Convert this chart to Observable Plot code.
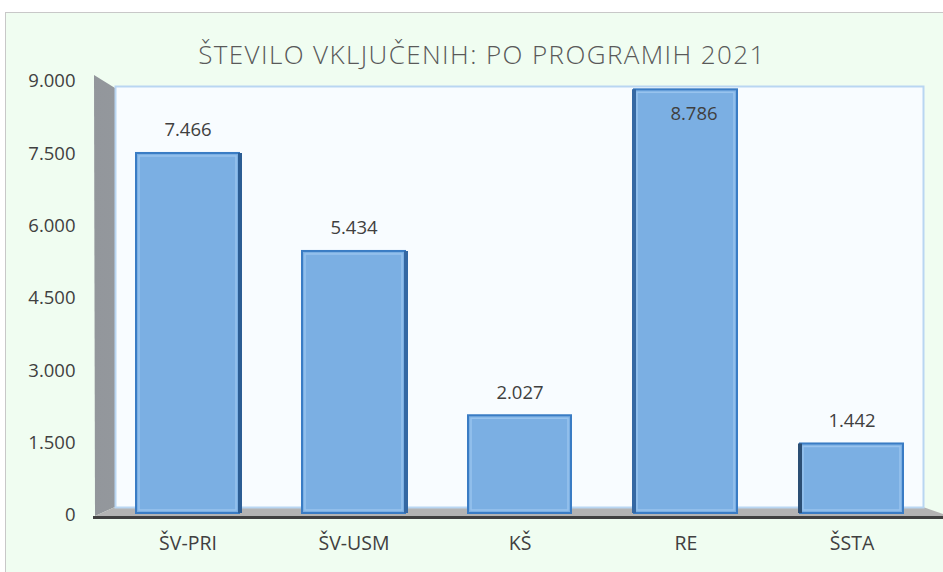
<!DOCTYPE html>
<html><head><meta charset="utf-8">
<script src="https://cdn.jsdelivr.net/npm/d3@7"></script>
<script src="https://cdn.jsdelivr.net/npm/@observablehq/plot@0.6"></script>
<style>
body{margin:0;background:#fff;width:943px;height:572px;overflow:hidden;position:relative;font-family:"Open Sans",sans-serif;}
#frame{position:absolute;left:5px;top:12px;width:950px;height:570px;background:#f0fdf1;border-left:1px solid #c8c8c8;border-top:1px solid #c8c8c8;}
#title{position:absolute;left:0;top:36px;width:964px;text-align:center;font-size:26px;letter-spacing:1.4px;line-height:36px;font-weight:300;color:#595959;white-space:nowrap;}
#side{position:absolute;left:0;top:0;width:943px;height:572px;background:linear-gradient(90deg,#8f9398,#b4b7bb);clip-path:polygon(94px 75px,115px 88px,115px 507px,95px 516px);}
#floor{position:absolute;left:0;top:0;width:943px;height:572px;background:#b3b3b3;clip-path:polygon(95px 516px,115px 507px,923px 507px,943px 514px,943px 517px,95px 517px);}
#chart{position:absolute;left:0;top:50px;}
</style></head>
<body>
<div id="frame"></div>
<div id="side"></div>
<div id="floor"></div>
<div id="title">ŠTEVILO VKLJUČENIH: PO PROGRAMIH 2021</div>
<div id="chart"></div>
<script>
const categories = ["ŠV-PRI", "ŠV-USM", "KŠ", "RE", "ŠSTA"];
const values = [7466, 5434, 2027, 8786, 1442];
const yTicks = [0, 1500, 3000, 4500, 6000, 7500, 9000];

const data = categories.map((c, i) => ({category: c, value: values[i], i}));
const loc = d3.formatLocale({decimal: ",", thousands: ".", grouping: [3], currency: ["", " €"]});
const fmt = loc.format(",d");

const chart = Plot.plot({
  width: 943, height: 522,
  marginTop: 29, marginBottom: 59, marginLeft: 115, marginRight: 20,
  style: {background: "transparent", fontFamily: "'Open Sans', sans-serif", color: "#404040"},
  x: {domain: categories, paddingInner: 0.38, paddingOuter: 0.12, label: null},
  y: {domain: [0, 9000], label: null},
  marks: [
    Plot.frame({fill: "#f8fcff", stroke: "#b9d6f2", strokeWidth: 2, insetTop: 7, insetBottom: 6}),
    Plot.axisY({ticks: yTicks, tickFormat: fmt, tickSize: 0, tickPadding: 40, fontSize: 18.5, dy: 2, label: null, fill: "#404040"}),
    Plot.axisX({tickSize: 0, tickPadding: 23, fontSize: 19.5, label: null, fill: "#404040"}),
    Plot.barY(data, {x: "category", y: "value", fill: "#7bafe3", stroke: "#3a7cc4", strokeWidth: 2}),
    Plot.barY(data, {x: "category", y: "value", fill: "none", stroke: "#98c3ee", strokeWidth: 1.5, inset: 3}),
    Plot.ruleX(data.filter(d => d.i < 2), {x: "category", y1: 0, y2: "value", dx: 52, stroke: d => d.i === 0 ? "#2c5d94" : "#3568a3", strokeWidth: 4}),
    Plot.ruleX(data.filter(d => d.i > 2), {x: "category", y1: 0, y2: "value", dx: -52, stroke: d => d.i === 4 ? "#2b4e74" : "#3568a3", strokeWidth: 4}),
    Plot.ruleY([0], {stroke: "#404040", strokeWidth: 3, dy: 4, insetLeft: -22, insetRight: -20}),
    Plot.text(data.filter(d => d.value < 8500), {x: "category", y: "value", text: d => fmt(d.value), dy: -23, fontSize: 18.5, fill: "#404040"}),
    Plot.text(data.filter(d => d.value >= 8500), {x: "category", y: "value", text: d => fmt(d.value), dy: 24, dx: 8, fontSize: 18.5, fill: "#404040"})
  ]
});
document.getElementById("chart").appendChild(chart);
</script>
</body></html>
